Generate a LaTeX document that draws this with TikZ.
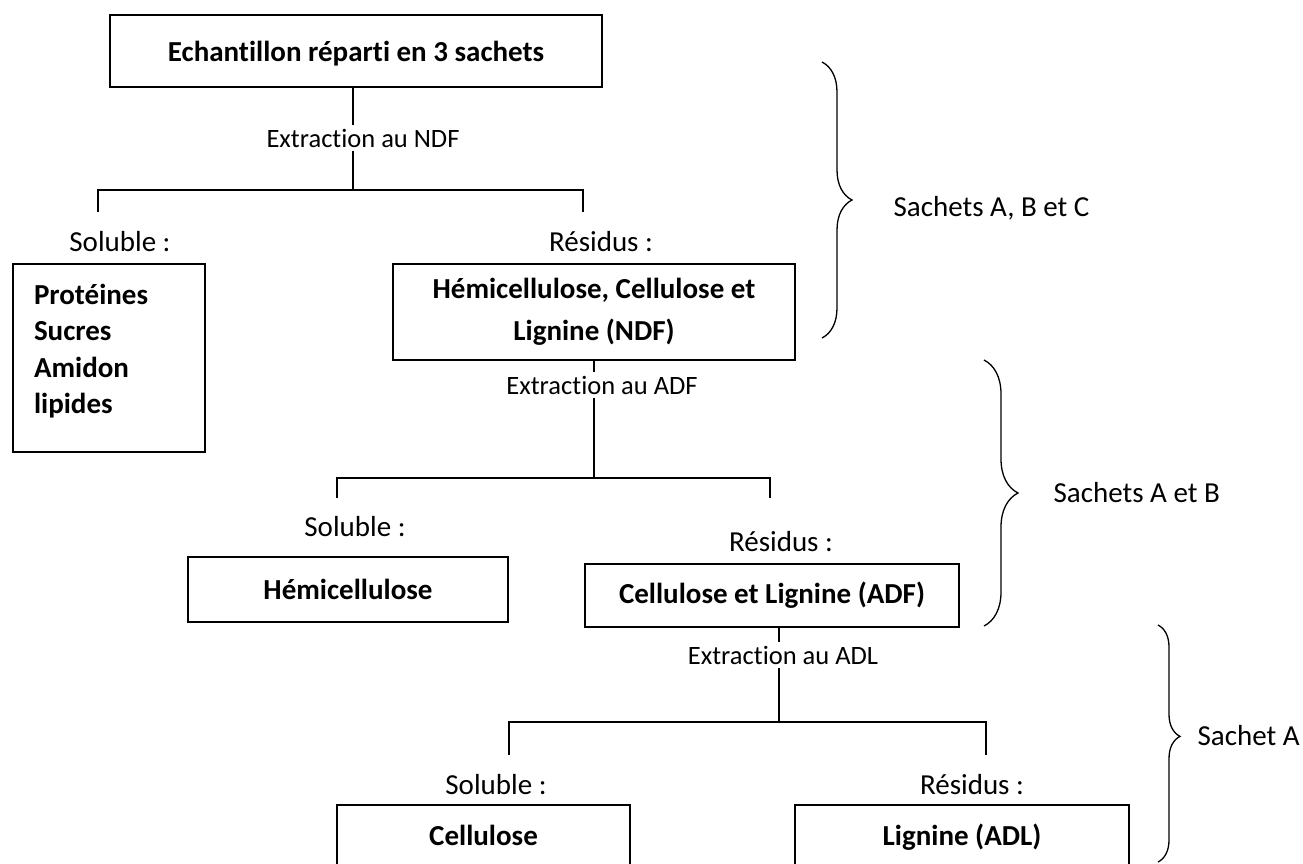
\documentclass[tikz,border=0pt]{standalone}
\usepackage{fontspec}
\setmainfont{Carlito}[Ligatures=NoCommon]
\usetikzlibrary{decorations.pathreplacing}
\tikzset{
  boite/.style={draw,font=\fontsize{29}{36.5}\selectfont\bfseries,align=center,inner sep=0},
  txt/.style={font=\fontsize{29}{35}\selectfont,inner sep=0},
  extr/.style={font=\fontsize{26.5}{32}\selectfont,fill=white,inner sep=4pt},
  acc/.style={decorate,decoration={brace,amplitude=#1}},
}
\begin{document}
\begin{tikzpicture}[x=1pt,y=-1pt,line width=1.3pt]
		\useasboundingbox (0,0) rectangle (1303,863);
		\node[boite,minimum width=492,minimum height=72,text depth=0pt] (ech) at (356,51) {Echantillon réparti en 3 sachets};
		\coordinate (c1) at (353,190);
		\coordinate (c1g) at (98,212);
		\coordinate (c1d) at (583,212);
		\draw (c1 |- ech.south)--(c1);
		\draw (c1g) |- (c1) -| (c1d);
		\node[extr] (ndf) at (363,138) {Extraction au NDF};
		\node[txt] (sol1) at (120,242) {Soluble :};
		\node[txt] (res1) at (601,242) {Résidus :};
		\node[boite,minimum width=192,minimum height=188] (prot) at (109,358) {\begin{minipage}[c][188pt][t]{150pt}\raggedright\vspace{20pt}Protéines\\Sucres\\Amidon\\lipides\end{minipage}};
		\node[boite,minimum width=402,minimum height=96] (hcl) at (594,312) {Hémicellulose, Cellulose et\\[5.5pt]Lignine (NDF)};
		\draw[acc=30] (822,62)--(822,338);
		\node[txt,anchor=west] (abc) at (893,208) {Sachets A, B et C};
		% deuxieme extraction
		\coordinate (c2) at (594,478);
		\coordinate (c2g) at (337,498);
		\coordinate (c2d) at (770,498);
		\draw (hcl.south)--(c2);
		\draw (c2g) |- (c2) -| (c2d);
		\node[extr] (adf) at (602,385) {Extraction au ADF};
		\node[txt] (sol2) at (355,527) {Soluble :};
		\node[txt] (res2) at (781,542) {Résidus :};
		\node[boite,minimum width=320,minimum height=65] (hem) at (348,589.5) {Hémicellulose};
		\node[boite,minimum width=374,minimum height=63] (cl) at (772,595.5) {Cellulose et Lignine (ADF)};
		\draw[acc=34] (984,360)--(984,626);
		\node[txt,anchor=west] (ab) at (1053,493) {Sachets A et B};
		% troisieme extraction
		\coordinate (c3) at (779,722);
		\coordinate (c3g) at (509,755);
		\coordinate (c3d) at (986,755);
		\draw (c3 |- cl.south)--(c3);
		\draw (c3g) |- (c3) -| (c3d);
		\node[extr] (adl) at (783,655) {Extraction au ADL};
		\node[txt] (sol3) at (496,785) {Soluble :};
		\node[txt] (res3) at (972,785) {Résidus :};
		\node[boite,minimum width=293,minimum height=60,text depth=0pt] (cel) at (483.5,835) {Cellulose};
		\node[boite,minimum width=334,minimum height=60,text depth=0pt] (lig) at (962,835) {Lignine (ADL)};
		\draw[acc=22,decoration={aspect=0.47}] (1158,625)--(1158,862);
		\node[txt,anchor=west] (a) at (1197,736) {Sachet A};
	\end{tikzpicture}
\end{document}
